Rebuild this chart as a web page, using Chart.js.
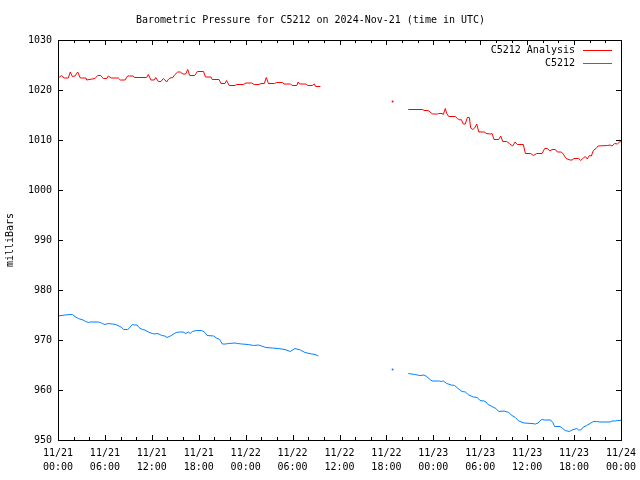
<!DOCTYPE html>
<html>
<head>
<meta charset="utf-8">
<style>
  body { margin: 0; background: #fff; }
  #wrap { width: 640px; height: 480px; }
</style>
<script src="https://cdn.jsdelivr.net/npm/chart.js@4"></script>
</head>
<body>
<div id="wrap"><canvas id="myChart" width="640" height="480"></canvas></div>
<script>
// hours since 2024-11-21 00:00 UTC; null values break the line
const redTimes = [0, 0.47, 0.77, 1.32, 1.57, 1.83, 2.17, 2.52, 2.85, 3.58, 3.67, 4.73, 5.08, 5.46, 5.79, 6.23, 6.43, 6.78,
  7.71, 7.97, 8.57, 8.91, 9.63, 9.76, 11.34, 11.55, 11.89, 12.32, 12.5, 12.83, 13.17, 13.47, 13.68, 13.9, 14.1, 14.45,
  14.62, 14.96, 15.31, 15.64, 15.99, 16.33, 16.59, 16.84, 17.48, 17.83, 18.61, 18.86, 19.57, 19.73, 20.59, 20.85, 21.36,
  21.55, 21.9, 22.64, 22.8, 23.71, 24.04, 24.75, 25.09, 25.71, 25.96, 26.38, 26.64, 26.91, 27.69, 27.94, 28.72, 28.9,
  29.76, 29.93, 30.54, 30.71, 30.89, 31.74, 31.92, 32.52, 32.78, 32.95, 33.56,
  38,
  42.79,
  43.8,
  44.8, 46.64, 46.81, 47.32, 47.58, 47.92, 48.51, 48.69, 49.11, 49.28, 49.53, 49.71, 49.97, 50.81, 51.07, 51.41, 51.58,
  51.83, 52.09, 52.35, 52.6, 52.78, 53.04, 53.29, 53.55, 53.81, 54.57, 54.74, 55.34, 55.51, 55.76, 56.36, 56.62, 56.87,
  57.38, 57.72, 58.15, 58.45, 58.74, 59.51, 59.77, 60.45, 60.79, 61.22, 61.9, 62.25, 62.58, 62.92, 63.18, 63.6, 63.86,
  64.37, 64.62, 64.97, 65.48, 65.74, 65.99, 66.59, 66.85, 67.18, 67.44, 67.69, 67.95, 68.21, 68.46, 68.81, 69.06, 70.25,
  70.6, 70.85, 71.2, 71.53, 71.88, 72];
const redValues = [1022.4, 1022.9, 1022.4, 1022.4, 1023.6, 1022.7, 1022.8, 1023.6, 1022.4, 1022.4, 1022.0, 1022.3, 1022.9,
  1022.9, 1022.3, 1022.3, 1022.8, 1022.4, 1022.4, 1022.0, 1022.0, 1022.8, 1022.8, 1022.5, 1022.5, 1023.1, 1022.0, 1022.0,
  1022.5, 1021.7, 1021.7, 1022.3, 1022.0, 1021.6, 1022.1, 1022.5, 1022.4, 1023.1, 1023.6, 1023.6, 1023.2, 1023.2, 1024.1,
  1022.9, 1022.9, 1023.7, 1023.7, 1022.6, 1022.6, 1022.1, 1022.1, 1021.3, 1021.3, 1021.9, 1020.9, 1020.9, 1021.1, 1021.1,
  1021.4, 1021.4, 1021.1, 1021.1, 1021.3, 1021.3, 1022.5, 1021.3, 1021.3, 1021.5, 1021.5, 1021.2, 1021.2, 1020.9, 1020.9,
  1021.6, 1021.2, 1021.2, 1020.9, 1020.9, 1021.2, 1020.7, 1020.7,
  null,
  1017.7,
  null,
  1016.1, 1016.1, 1015.9, 1015.9, 1015.6, 1015.2, 1015.2, 1015.3, 1015.3, 1015.1, 1016.3, 1015.3, 1014.7, 1014.7, 1014.3,
  1014.0, 1014.1, 1013.2, 1013.2, 1014.5, 1014.5, 1012.4, 1012.1, 1012.4, 1013.2, 1011.6, 1011.6, 1011.3, 1011.2, 1011.3,
  1010.1, 1010.1, 1010.8, 1009.7, 1009.7, 1009.3, 1008.8, 1009.6, 1009.1, 1009.1, 1007.3, 1007.3, 1006.9, 1007.3, 1007.3,
  1008.3, 1008.3, 1007.8, 1008.1, 1008.1, 1007.6, 1007.6, 1007.2, 1006.3, 1006.0, 1006.0, 1006.3, 1006.3, 1005.9, 1006.4,
  1006.7, 1006.2, 1006.9, 1006.8, 1007.9, 1008.3, 1008.8, 1008.9, 1009.0, 1008.8, 1009.3, 1009.2, 1009.7, 1009.6];

const blueTimes = [0, 0.9, 1.57, 1.83, 2.17, 2.6, 3.2, 3.54, 3.88, 4.13, 5.15, 5.41, 5.67, 6.01, 6.43, 6.94, 7.38, 7.8, 8.15,
  8.4, 8.91, 9.08, 9.5, 9.76, 10.1, 10.36, 10.78, 11.13, 11.55, 12.06, 12.41, 12.66, 12.92, 13.26, 13.68, 13.94, 14.36,
  14.8, 15.13, 15.56, 15.99, 16.33, 16.66, 16.92, 17.18, 17.69, 18.38, 18.8, 19.06, 19.91, 20.25, 20.68, 21.01, 21.45,
  21.78, 22.64, 22.98, 23.49, 24.34, 25.03, 25.62, 26.05, 26.56, 27.41, 28.17, 29.03, 29.71, 30.31, 30.99, 31.59, 32.45,
  32.87, 33.29,
  38,
  42.79,
  43.8,
  44.8, 45.62, 45.95, 46.3, 46.81, 47.15, 47.58, 47.83, 48.77, 49.02, 49.28, 49.71, 50.3, 50.73, 51.16, 51.67, 52.09,
  52.53, 53.11, 53.63, 53.97, 54.48, 54.74, 54.99, 55.5, 56.01, 56.36, 57.04, 57.64, 58.06, 58.49, 58.92, 59.6, 60.62,
  61.05, 61.39, 61.81, 62.25, 63.01, 63.27, 63.52, 64.2, 64.54, 64.87, 65.39, 65.74, 66.34, 66.59, 66.85, 67.18, 67.62,
  68.04, 68.46, 68.89, 69.31, 70.6, 70.85, 71.27, 71.53, 71.87, 72];
const blueValues = [974.8, 975.0, 975.1, 975.1, 974.7, 974.3, 974.0, 973.7, 973.5, 973.6, 973.6, 973.5, 973.3, 973.1, 973.3,
  973.2, 973.1, 972.8, 972.5, 972.1, 972.1, 972.3, 973.1, 973.0, 973.0, 972.5, 972.1, 972.0, 971.6, 971.3, 971.2, 971.3,
  971.2, 970.9, 970.8, 970.5, 970.8, 971.2, 971.5, 971.6, 971.6, 971.3, 971.6, 971.3, 971.7, 971.9, 971.9, 971.5, 970.9,
  970.8, 970.4, 970.1, 969.2, 969.2, 969.3, 969.4, 969.3, 969.2, 969.1, 968.9, 969.0, 968.8, 968.5, 968.4, 968.3, 968.1,
  967.7, 968.3, 968.0, 967.5, 967.2, 967.1, 966.8,
  null,
  964.1,
  null,
  963.3, 963.1, 963.0, 962.9, 963.0, 962.7, 962.1, 961.8, 961.8, 961.7, 961.8, 961.3, 961.0, 960.9, 960.3, 959.7, 959.6,
  959.0, 958.6, 958.5, 957.9, 957.8, 957.6, 957.1, 956.7, 956.3, 955.7, 955.8, 955.5, 954.9, 954.5, 953.8, 953.4, 953.3,
  953.2, 953.4, 954.1, 954.0, 954.0, 953.5, 952.7, 952.7, 952.3, 951.9, 951.7, 952.0, 952.3, 952.0, 952.0, 952.6, 952.9,
  953.3, 953.7, 953.7, 953.6, 953.6, 953.8, 953.8, 953.9, 953.9, 954.0];

const dayLabels = ['11/21', '11/22', '11/23', '11/24'];
const seriesNames = ['C5212 Analysis', 'C5212'];
const seriesColors = ['#ff0000', '#0080ff'];
const titleText = 'Barometric Pressure for C5212 on 2024-Nov-21 (time in UTC)';

const FONT = { family: '"DejaVu Sans Mono", "Liberation Mono", monospace', size: 10 };

function toPoints(times, values) {
  return times.map((t, i) => ({ x: t, y: values[i] }));
}

// lone points between gaps get a dot, everything else is just the line
function loneRadius(c) {
  const d = c.dataset.data;
  const i = c.dataIndex;
  if (d[i].y == null) return 0;
  const prev = d[i - 1], next = d[i + 1];
  if ((!prev || prev.y == null) && (!next || next.y == null)) return 1;
  return 0;
}

// gnuplot style: box border, inward ticks, legend inside top right
const frame = {
  id: 'frame',
  afterDraw(chart) {
    const c = chart.ctx;
    const a = chart.chartArea;
    const xs = chart.scales.x, ys = chart.scales.y;
    c.save();
    c.strokeStyle = '#000';
    c.lineWidth = 1;
    c.strokeRect(Math.round(a.left) + 0.5, Math.round(a.top) + 0.5,
      Math.round(a.right - a.left), Math.round(a.bottom - a.top));
    c.beginPath();
    for (let h = 0; h <= 72; h += 2) {
      const px = Math.round(xs.getPixelForValue(h)) + 0.5;
      const len = h % 6 === 0 ? 5 : 3;
      c.moveTo(px, a.bottom); c.lineTo(px, a.bottom - len);
      c.moveTo(px, a.top); c.lineTo(px, a.top + len);
    }
    for (let v = 950; v <= 1030; v += 10) {
      const py = Math.round(ys.getPixelForValue(v)) + 0.5;
      c.moveTo(a.left, py); c.lineTo(a.left + 5, py);
      c.moveTo(a.right, py); c.lineTo(a.right - 5, py);
    }
    c.stroke();

    c.font = FONT.size + 'px ' + FONT.family;
    c.textAlign = 'right';
    c.textBaseline = 'middle';
    chart.data.datasets.forEach((ds, i) => {
      const y = a.top + 10 + i * 13;
      c.fillStyle = '#000';
      c.fillText(ds.label, a.right - 46, y);
      c.strokeStyle = ds.borderColor;
      c.beginPath();
      c.moveTo(a.right - 38, Math.round(y) + 0.5);
      c.lineTo(a.right - 9, Math.round(y) + 0.5);
      c.stroke();
    });
    c.restore();
  }
};

const ctx = document.getElementById('myChart');

new Chart(ctx, {
  type: 'line',
  data: {
    datasets: [{
      label: seriesNames[0],
      data: toPoints(redTimes, redValues),
      borderColor: seriesColors[0],
      backgroundColor: seriesColors[0],
      borderWidth: 1,
      pointRadius: loneRadius,
      pointBorderWidth: 0,
      pointHoverRadius: 0,
      tension: 0
    }, {
      label: seriesNames[1],
      data: toPoints(blueTimes, blueValues),
      borderColor: seriesColors[1],
      backgroundColor: seriesColors[1],
      borderWidth: 1,
      pointRadius: loneRadius,
      pointBorderWidth: 0,
      pointHoverRadius: 0,
      tension: 0
    }]
  },
  options: {
    responsive: false,
    animation: false,
    layout: { padding: { right: 19 } },
    plugins: {
      legend: { display: false },
      tooltip: { enabled: false },
      title: {
        display: true,
        text: titleText,
        color: '#000',
        font: { ...FONT, weight: 'normal' },
        padding: { top: 14, bottom: 14 }
      }
    },
    scales: {
      x: {
        type: 'linear',
        min: 0,
        max: 72,
        grid: { display: false, drawTicks: false },
        border: { display: false },
        afterFit: s => { s.height = 40; s.paddingLeft = 0; s.paddingRight = 0; },
        ticks: {
          stepSize: 6,
          autoSkip: false,
          maxRotation: 0,
          padding: 7,
          color: '#000',
          font: { ...FONT, lineHeight: 1.35 },
          callback: v => [dayLabels[Math.floor(v / 24)], String(v % 24).padStart(2, '0') + ':00']
        }
      },
      y: {
        min: 950,
        max: 1030,
        grid: { display: false, drawTicks: false },
        border: { display: false },
        afterFit: s => { s.width = 58; },
        ticks: { stepSize: 10, padding: 6, color: '#000', font: FONT, callback: v => String(v) },
        title: { display: true, text: 'milliBars', color: '#000', font: FONT, padding: { top: 4, bottom: 0 } }
      }
    }
  },
  plugins: [frame]
});
</script>
</body>
</html>
